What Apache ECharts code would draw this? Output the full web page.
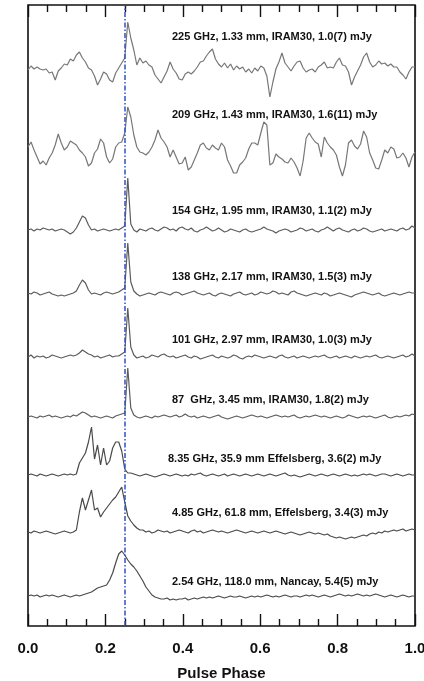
<!DOCTYPE html>
<html>
<head>
<meta charset="utf-8">
<script src="https://cdn.jsdelivr.net/npm/echarts@6/dist/echarts.min.js"></script>
<style>
  html, body { margin: 0; padding: 0; background: #fff; }
  #chart { width: 424px; height: 681px; }
</style>
</head>
<body>
<div id="chart"></div>
<script>
// Pulse profiles of one pulsar at nine observing frequencies, 128 phase bins each.
// Values are relative intensity above each profile's own baseline.

const nBins = 128;

const bandLabels = [
  '225 GHz, 1.33 mm, IRAM30, 1.0(7) mJy',
  '209 GHz, 1.43 mm, IRAM30, 1.6(11) mJy',
  '154 GHz, 1.95 mm, IRAM30, 1.1(2) mJy',
  '138 GHz, 2.17 mm, IRAM30, 1.5(3) mJy',
  '101 GHz, 2.97 mm, IRAM30, 1.0(3) mJy',
  '87  GHz, 3.45 mm, IRAM30, 1.8(2) mJy',
  '8.35 GHz, 35.9 mm Effelsberg, 3.6(2) mJy',
  '4.85 GHz, 61.8 mm, Effelsberg, 3.4(3) mJy',
  '2.54 GHz, 118.0 mm, Nancay, 5.4(5) mJy'
];

const xTickLabels = ['0.0', '0.2', '0.4', '0.6', '0.8', '1.0'];
const refPhase = 0.25;

const prof225 = [
  0, 4, 1, 3, 1, 0, 1, -3, -2, -10, -1, 2, 6, 5, 11, 9,
  15, 18, 12, 8, 2, 0, -6, -15, -9, -2, -4, -10, -12, -3, 2, 7,
  12, 48, 32, 20, 5, 12, 7, 9, 5, 3, -5, -9, -13, -7, -1, 8,
  1, -3, -9, -10, -4, -2, -4, -1, 3, 8, 9, 14, 18, 21, 11, 6,
  3, 7, 2, 6, 0, 4, 1, 3, -2, 1, -3, 2, -1, 4, 2, -6,
  -27, -12, 1, 8, 17, 7, 3, -1, 4, 8, 9, 2, -2, 0, 1, -2,
  3, 5, 8, 2, 3, 2, 8, 12, 5, 4, -2, -15, -7, -1, 5, 13,
  17, 8, 3, 5, 9, 6, 7, 4, 6, 3, 3, -2, -5, -9, -2, 3,
  3
];

const prof209 = [
  3, 8, 0, -7, -14, -11, -15, -8, -3, 5, 16, 7, 0, 3, 9, 7,
  5, 0, -3, -7, -16, -13, -3, 1, 11, 7, -7, -13, -9, 3, 7, 8,
  17, 43, 33, 15, 3, -2, -3, -5, -2, 3, 10, 20, 12, 8, 3, -7,
  0, -7, -14, -13, -7, -20, -17, -10, -3, 5, 7, 2, 0, 5, 2, 0,
  7, 3, -10, -16, -23, -23, -15, -12, -8, 1, 7, 7, 5, 17, 28, 25,
  -15, -13, -4, -7, -9, -12, -13, -8, -12, -18, -26, -11, 12, 17, 12, 8,
  6, -7, 13, 7, 3, 0, -5, -17, -26, -15, 7, 10, 4, 1, 6, 19,
  13, -3, -10, -18, -19, -10, 0, -3, 3, 1, -8, -7, -3, -8, -17, -7,
  -2
];

const prof154 = [
  0, 1, -1, 1, 0, 2, 1, 0, 1, -1, 0, 1, 0, -2, -4, -2,
  2, 8, 14, 12, 5, 0, 1, -1, 0, 1, 0, -1, 0, 1, 0, 2,
  4, 52, 6, 0, -2, 1, 0, -1, 1, 2, 0, -1, 1, 3, 2, 0,
  1, -1, 2, 3, 1, 0, 2, -1, -2, 0, 1, 3, 1, -1, 0, 2,
  0, -2, -1, 1, 0, -1, -2, 0, 1, -1, -2, -1, 0, 1, 3, 1,
  0, -1, -3, -1, 0, 1, 0, -2, -1, 0, 2, 1, -1, 0, 1, -1,
  -2, 0, 1, 3, 1, -1, 1, 2, 0, -1, -2, 0, 1, -1, 0, 2,
  1, -1, -2, -1, 0, 1, -1, 0, 1, 0, -1, 1, 2, 0, 1, 4,
  2
];

const prof138 = [
  1, 0, 2, 1, -1, 0, 1, 2, 0, -1, -2, -1, -2, -1, 0, 1,
  3, 9, 14, 11, 4, 0, 1, 0, -1, 1, 2, 1, 0, 1, 2, 4,
  6, 51, 12, 3, 0, -2, -1, 0, 1, 0, -1, 1, 2, 1, 0, -1,
  1, 2, 1, -1, 0, 1, 2, 3, 1, 0, -1, 0, 1, -1, -2, 0,
  1, 0, -1, -2, 0, 1, 2, 0, -1, 0, 1, -1, 0, 2, 1, 0,
  1, 3, 2, 0, 1, 0, -1, 2, 3, 1, 0, -1, -2, -1, 0, 1,
  0, -1, 1, 0, -2, -1, 0, 1, 0, -1, -2, -3, -1, 0, 1, 2,
  1, 0, -1, 0, 1, -1, -2, -1, 0, 1, 0, -1, 0, 1, 2, 1,
  1
];

const prof101 = [
  0, 2, -1, 1, 0, 1, -1, 0, 2, 1, 0, -1, 0, 1, 2, 1,
  2, 4, 7, 5, 3, 2, 0, 1, -1, 0, 1, 2, 0, 1, 1, 3,
  5, 49, 10, 2, -1, 0, 1, -1, 0, 2, 1, 0, 2, 3, 1, 0,
  1, -1, 0, 1, 2, 0, -1, 1, 0, -2, -1, 0, 1, 2, 0, -1,
  1, 0, -1, 0, 2, 1, -1, -2, 0, 1, 0, 2, 1, 0, -1, 0,
  1, 0, -1, 1, 2, 0, -1, 0, 1, -1, 0, 1, 0, -1, 0, 1,
  0, 1, 2, 0, -1, 0, 1, -1, 0, 1, 0, -1, 1, 0, -1, 0,
  1, 0, 1, 2, 0, -1, 0, 1, 0, -1, 0, 1, 2, 0, 1, 3,
  1
];

const prof87 = [
  0, 1, 0, -1, 1, 0, 1, 2, 0, 1, 0, -1, 0, 1, 0, 2,
  1, 3, 5, 4, 2, 0, 1, 0, -1, 0, 1, 0, -1, 1, 2, 3,
  4, 49, 9, 2, 0, -1, 0, 1, 0, -1, 1, 0, 1, 2, 1, 0,
  1, 2, 0, 1, 3, 1, 0, 1, -1, 0, 1, 0, -1, 0, 1, 2,
  0, -1, -2, -1, 0, 1, 0, -1, 0, 1, 2, 1, 0, 1, 0, -1,
  0, 1, 2, 1, 0, 1, 0, 1, 2, 0, -1, 0, 1, 0, 1, 2,
  1, 0, 1, 0, -1, 0, 1, 0, -1, 0, 2, 1, 0, -1, 0, 1,
  0, 1, 0, -1, 0, 1, 2, 0, -1, 0, 1, 0, 1, 2, 1, 3,
  2
];

const prof8_35 = [
  0, 1, 0, -1, 1, 0, -1, 0, 1, 0, -1, 0, 1, 0, 1, 0,
  1, 12, 17, 22, 33, 48, 16, 30, 10, 27, 10, 14, 27, 33, 33, 24,
  6, 2, 2, 1, 0, -1, 0, 1, 0, -1, -2, -1, 0, 1, 0, -1,
  0, 1, 0, -1, 0, -1, 1, 0, 1, 2, 0, -1, 0, 1, 0, -1,
  0, 1, -1, 0, 1, 0, -1, 0, 1, 0, -1, 0, 1, 0, -1, 0,
  1, 0, -1, 0, 1, 2, 0, -1, 0, -1, -2, -1, 0, 1, 0, -1,
  0, 1, 0, -1, 0, 1, 0, -1, 0, 1, 0, -1, 0, -1, 0, 1,
  0, 1, 0, -1, 0, 1, 1, 0, -1, 0, 1, 0, -1, 0, 1, 0,
  0
];

const prof4_85 = [
  0, -1, 1, 0, -1, 0, 1, 0, -1, -2, -1, 0, 1, 0, -1, 0,
  2, 20, 34, 22, 32, 42, 22, 24, 15, 20, 24, 28, 32, 35, 40, 45,
  30, 16, 11, 7, 4, 2, 2, 0, 1, -1, 0, 2, 1, 0, 1, -1,
  0, 1, 2, 1, 0, -1, 1, 2, 0, 1, -1, 0, 1, 2, 1, 0,
  1, 0, -1, 0, 1, 2, 1, 0, -1, 0, 1, 0, -1, 0, 1, 0,
  -1, 0, 1, 0, -1, -2, -1, 0, -1, -2, -3, -2, -1, 0, -1, -2,
  -1, -2, -3, -2, -4, -5, -6, -5, -6, -7, -6, -5, -6, -5, -4, -3,
  -4, -2, -1, -2, 0, -1, 1, 0, 1, 2, 1, 2, 3, 1, 2, 3,
  2
];

const prof2_54 = [
  1, 2, 1, 2, 0, 1, 2, 1, 2, 1, 0, 1, 2, 1, 0, 1,
  2, 1, 2, 3, 4, 5, 7, 9, 10, 11, 12, 17, 24, 34, 43, 46,
  42, 37, 33, 30, 26, 21, 16, 10, 6, 2, 0, -1, -2, -2, -1, -3,
  -2, -3, -2, -2, -1, -3, -2, -1, -2, -1, 0, -1, 0, -1, 0, 1,
  0, -1, 0, 1, 0, 0, 1, 0, -1, 0, 1, 0, 1, 0, 1, 2,
  1, 0, 1, 0, 1, 2, 1, 0, 1, 1, 0, 1, 2, 1, 2, 1,
  0, 1, 2, 1, 0, 1, 2, 3, 2, 1, 2, 1, 2, 3, 2, 1,
  2, 1, 2, 3, 2, 1, 0, 1, 2, 1, 0, 1, 2, 1, 0, 1,
  1
];

const profiles = [prof225, prof209, prof154, prof138, prof101, prof87, prof8_35, prof4_85, prof2_54];

// Layout: vertical offset of each profile baseline (in y-axis units, 1 unit = 1 px)
// and position of its annotation.
const baselineOffsets = [556, 476, 396, 332, 269, 209, 151, 94, 29];
const labelPos = [
  [172, 37], [172, 115], [172, 211], [172, 277], [172, 340],
  [172, 400], [168, 459], [172, 513], [172, 582]
];
const lineColors = ['#777', '#777', '#5c5c5c', '#5c5c5c', '#5c5c5c', '#5c5c5c', '#4a4a4a', '#4a4a4a', '#4a4a4a'];

const chart = echarts.init(document.getElementById('chart'), null, { renderer: 'canvas' });

const axisFont = '"Liberation Sans", Arial, Helvetica, sans-serif';

const series = profiles.map((prof, k) => ({
  name: bandLabels[k],
  type: 'line',
  xAxisIndex: 0,
  yAxisIndex: 0,
  showSymbol: false,
  symbol: 'none',
  lineStyle: { color: lineColors[k], width: 1.2 },
  data: prof.map((v, i) => [i / nBins, baselineOffsets[k] + v]),
  z: 2
}));

// Reference phase marker
series[0].markLine = {
  silent: true,
  symbol: 'none',
  label: { show: false },
  lineStyle: { color: '#3152c4', width: 1.5, type: [5, 2, 1.5, 2] },
  data: [{ xAxis: refPhase }],
  z: 3
};

const baseX = {
  type: 'value',
  min: 0,
  max: 1,
  interval: 0.2,
  axisLine: { show: false },
  splitLine: { show: false },
  axisTick: { show: true, inside: true, length: 12, lineStyle: { color: '#111', width: 1.4 } },
  minorTick: { show: true, splitNumber: 4, length: 7, lineStyle: { color: '#111', width: 1.4 } },
  minorSplitLine: { show: false }
};

chart.setOption({
  animation: false,
  backgroundColor: '#fff',
  grid: {
    left: 28, right: 9, top: 5, bottom: 55,
    containLabel: false,
    outerBoundsMode: 'none',
    show: true, borderColor: '#111', borderWidth: 1.6, backgroundColor: 'transparent'
  },
  xAxis: [
    Object.assign({}, baseX, {
      position: 'bottom',
      name: 'Pulse Phase',
      nameLocation: 'middle',
      nameGap: 40,
      nameTextStyle: { fontFamily: axisFont, fontWeight: 'bold', fontSize: 15, color: '#111' },
      axisLabel: {
        show: true,
        margin: 15,
        fontFamily: axisFont,
        fontWeight: 'bold',
        fontSize: 15,
        color: '#111',
        hideOverlap: false,
        formatter: v => xTickLabels[Math.round(v / 0.2)]
      }
    }),
    Object.assign({}, baseX, {
      position: 'top',
      axisLabel: { show: false }
    })
  ],
  yAxis: {
    type: 'value',
    min: 0,
    max: 621,
    show: false
  },
  graphic: bandLabels.map((t, k) => ({
    type: 'text',
    x: labelPos[k][0],
    y: labelPos[k][1],
    z: 10,
    style: {
      text: t,
      fill: '#111',
      font: 'bold 11px ' + axisFont,
      verticalAlign: 'middle'
    }
  })),
  series: series
});
</script>
</body>
</html>
